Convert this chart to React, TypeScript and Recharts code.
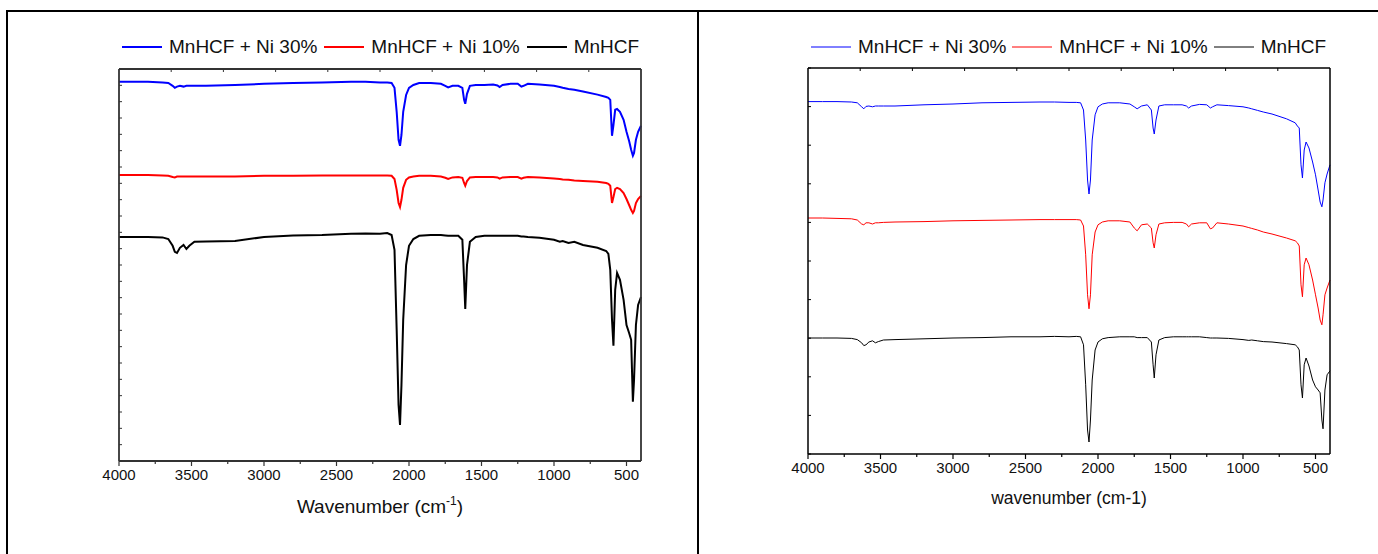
import React from 'react';
import { LineChart, Line, XAxis, YAxis, Legend } from 'recharts';

// FTIR spectra, transmittance in arbitrary units (stacked), two versions of the same figure

const WAVENUMBER = [
  4000, 3900, 3800, 3700, 3660, 3630, 3615, 3600, 3580, 3555,
  3535, 3515, 3480, 3400, 3200, 3000, 2800, 2600, 2400, 2300,
  2200, 2150, 2120, 2100, 2085, 2072, 2062, 2052, 2040, 2020,
  2000, 1970, 1930, 1850, 1780, 1750, 1730, 1700, 1660, 1632,
  1620, 1612, 1600, 1580, 1540, 1480, 1420, 1390, 1375, 1355,
  1300, 1250, 1225, 1210, 1180, 1100, 1000, 960, 940, 900,
  860, 800, 700, 640, 625, 612, 600, 590, 578, 565,
  545, 520, 500, 482, 468, 456, 448, 435, 420, 400,
];

// left figure
const LEFT_NI30 = [
  94.8, 94.8, 94.8, 94.6, 94.5, 93.8, 93.3, 93.6, 93.8, 93.6,
  93.8, 93.8, 93.8, 93.8, 94.0, 94.3, 94.5, 94.6, 94.8, 94.8,
  94.6, 94.6, 94.5, 93.3, 87.3, 80.3, 78.8, 81.5, 87.3, 91.5,
  93.3, 94.0, 94.5, 94.5, 94.3, 93.8, 93.4, 93.8, 93.8, 93.3,
  90.3, 89.3, 91.8, 93.8, 94.0, 94.0, 94.1, 93.9, 93.5, 94.0,
  94.3, 94.3, 93.6, 93.8, 94.3, 94.1, 93.8, 93.5, 93.3, 93.0,
  92.8, 92.4, 91.6, 91.0, 90.8, 90.3, 81.3, 84.0, 87.8, 88.0,
  87.3, 85.3, 82.3, 80.0, 77.8, 76.3, 77.0, 80.3, 82.3, 83.8,
];
const LEFT_NI10 = [
  71.5, 71.5, 71.5, 71.4, 71.3, 71.0, 70.9, 71.1, 71.1, 71.1,
  71.1, 71.1, 71.1, 71.1, 71.1, 71.3, 71.3, 71.4, 71.4, 71.4,
  71.4, 71.4, 71.3, 70.5, 67.8, 64.5, 63.5, 65.3, 68.3, 70.3,
  70.9, 71.1, 71.3, 71.3, 71.1, 70.8, 70.5, 70.9, 71.0, 70.8,
  69.5, 68.8, 70.0, 70.9, 71.0, 71.0, 71.0, 70.9, 70.6, 70.9,
  71.0, 71.0, 70.6, 70.8, 71.0, 70.9, 70.6, 70.5, 70.4, 70.3,
  70.1, 70.0, 69.8, 69.5, 69.3, 68.8, 64.5, 66.0, 68.0, 68.3,
  68.0, 67.0, 65.5, 64.0, 62.8, 62.0, 62.5, 64.5, 65.5, 66.3,
];
const LEFT_PURE = [
  56.0, 56.0, 56.0, 55.9, 55.5, 53.8, 52.3, 52.0, 53.3, 54.0,
  53.0, 53.8, 54.8, 54.9, 55.0, 56.0, 56.4, 56.5, 56.8, 56.9,
  56.8, 57.0, 56.5, 52.8, 32.8, 14.0, 9.0, 19.0, 35.3, 49.0,
  53.8, 55.5, 56.3, 56.5, 56.5, 56.4, 56.3, 56.3, 56.3, 55.3,
  45.3, 38.0, 49.0, 54.8, 56.0, 56.3, 56.3, 56.3, 56.3, 56.3,
  56.3, 56.3, 56.1, 56.1, 56.0, 55.8, 55.3, 54.8, 55.0, 54.5,
  54.8, 54.0, 53.3, 52.5, 51.8, 47.8, 35.3, 28.8, 42.8, 47.0,
  45.3, 40.3, 34.0, 32.0, 30.3, 14.8, 20.3, 34.0, 39.0, 41.0,
];

// right figure
const RIGHT_NI30 = [
  88.1, 88.1, 88.1, 88.0, 87.8, 86.8, 86.3, 86.9, 87.0, 86.8,
  87.0, 87.0, 87.0, 87.0, 87.3, 87.5, 87.8, 87.9, 88.0, 88.0,
  87.9, 87.9, 87.8, 86.0, 78.5, 68.5, 65.0, 68.5, 78.5, 84.8,
  86.8, 87.5, 87.8, 87.8, 87.5, 86.8, 86.3, 87.0, 87.3, 86.0,
  81.5, 80.0, 83.5, 87.0, 87.3, 87.3, 87.3, 87.0, 86.5, 87.0,
  87.4, 87.3, 86.5, 86.8, 87.3, 87.1, 86.8, 86.5, 86.3, 85.9,
  85.5, 85.0, 83.8, 82.8, 82.0, 81.5, 72.3, 69.0, 76.0, 78.0,
  76.5, 73.0, 69.8, 66.0, 63.0, 61.8, 63.5, 67.8, 70.0, 72.3,
];
const RIGHT_NI10 = [
  59.0, 59.0, 58.9, 58.8, 58.5, 57.5, 57.3, 57.8, 57.8, 57.5,
  57.8, 57.8, 57.9, 58.0, 58.1, 58.3, 58.4, 58.5, 58.6, 58.6,
  58.6, 58.6, 58.5, 57.0, 49.8, 39.8, 36.3, 39.8, 49.8, 55.5,
  57.3, 58.0, 58.3, 58.3, 58.0, 56.5, 55.8, 57.3, 57.5, 56.5,
  52.8, 51.5, 54.8, 57.5, 57.8, 57.9, 57.9, 57.5, 56.8, 57.5,
  57.8, 57.8, 56.3, 56.5, 57.8, 57.5, 57.0, 56.6, 56.4, 56.0,
  55.5, 55.0, 54.0, 53.3, 52.8, 52.0, 42.3, 39.3, 47.3, 49.0,
  47.3, 43.5, 39.8, 36.5, 33.5, 32.3, 34.8, 39.8, 41.5, 43.5,
];
const RIGHT_PURE = [
  29.0, 29.0, 29.0, 28.9, 28.6, 27.8, 27.1, 27.3, 28.0, 28.3,
  27.8, 28.1, 28.5, 28.6, 28.8, 29.0, 29.1, 29.3, 29.3, 29.4,
  29.3, 29.4, 29.3, 27.3, 17.3, 6.0, 3.0, 8.5, 18.5, 26.0,
  28.0, 28.8, 29.1, 29.3, 29.3, 29.3, 29.1, 29.1, 29.1, 28.0,
  22.3, 19.0, 24.8, 28.5, 29.1, 29.3, 29.3, 29.3, 29.3, 29.3,
  29.3, 29.1, 29.0, 29.0, 29.0, 28.9, 28.6, 28.4, 28.5, 28.3,
  28.1, 28.0, 27.6, 27.3, 26.8, 26.0, 17.3, 14.0, 22.3, 24.0,
  22.0, 18.5, 16.8, 16.0, 15.3, 8.5, 6.3, 16.0, 19.8, 20.8,
];

const SERIES_NAMES = ['MnHCF + Ni 30%', 'MnHCF + Ni 10%', 'MnHCF'];
const SERIES_COLORS = ['#0000ff', '#ff0000', '#000000'];

const X_LABELS = [4000, 3500, 3000, 2500, 2000, 1500, 1000, 500];
const X_TICKS = [4000, 3750, 3500, 3250, 3000, 2750, 2500, 2250, 2000, 1750, 1500, 1250, 1000, 750, 500];
const TOP_TICKS = [3640, 3280, 2920, 2560, 2200, 1840, 1480, 1120, 760];

const FONT = "'Liberation Sans', Arial, sans-serif";

const evenTicks = (max: number, n: number) => Array.from({ length: n + 1 }, (_, i) => (max * i) / n);

const toRows = (a: number[], b: number[], c: number[]) =>
  WAVENUMBER.map((wn, i) => ({ wn, s0: a[i], s1: b[i], s2: c[i] }));

function BottomTick({ x, y, payload, color }: any) {
  const major = X_LABELS.includes(payload.value);
  return (
    <g>
      <line x1={x} x2={x} y1={y} y2={y + (major ? 5 : 3)} stroke={color} strokeWidth={1.2} />
      {major && (
        <text x={x} y={y + 19} textAnchor="middle" fontSize={15} fontFamily={FONT} fill="#111">
          {payload.value}
        </text>
      )}
    </g>
  );
}

const TopTick = ({ x, y, color }: any) => <line x1={x} x2={x} y1={y} y2={y + 3} stroke={color} strokeWidth={1} />;
const LeftTick = ({ x, y, color }: any) => <line x1={x} x2={x + 3} y1={y} y2={y} stroke={color} strokeWidth={1} />;
const RightTick = ({ x, y, color }: any) => <line x1={x} x2={x + 3} y1={y} y2={y} stroke={color} strokeWidth={1} />;

function LegendRow({ lineWidth, gap }: { lineWidth: number; gap: number }) {
  return (
    <div style={{ display: 'flex', alignItems: 'center', whiteSpace: 'nowrap', fontFamily: FONT, fontSize: 19, lineHeight: '22px', color: '#111' }}>
      {SERIES_NAMES.map((name, i) => (
        <span key={name} style={{ display: 'flex', alignItems: 'center', marginRight: gap }}>
          <svg width={40} height={6} style={{ display: 'block', marginRight: 7 }}>
            <line x1={0} x2={40} y1={3} y2={3} stroke={SERIES_COLORS[i]} strokeWidth={lineWidth} />
          </svg>
          {name}
        </span>
      ))}
    </div>
  );
}

type PanelProps = {
  left: number;
  width: number;
  height: number;
  margin: { top: number; right: number; bottom: number; left: number };
  rows: any[];
  yMax: number;
  leftTicks: number[];
  rightTicks: number[];
  lineWidth: number;
  frame: string;
  frameWidth: number;
  legendLeft: number;
  legendGap: number;
  title: (cx: number, cy: number) => React.ReactNode;
  titleOffset: number;
};

function Panel(p: PanelProps) {
  const axisLine = { stroke: p.frame, strokeWidth: p.frameWidth };
  return (
    <div style={{ position: 'absolute', left: p.left, top: 0, width: p.width, height: p.height }}>
      <LineChart width={p.width} height={p.height} data={p.rows} margin={p.margin}>
        <XAxis
          xAxisId="b"
          dataKey="wn"
          type="number"
          domain={[400, 4000]}
          reversed
          ticks={X_TICKS}
          interval={0}
          tickSize={0}
          tickMargin={0}
          height={60}
          axisLine={axisLine}
          tickLine={false}
          tick={(t: any) => <BottomTick {...t} color={p.frame} />}
          label={(l: any) => {
            const vb = l.viewBox;
            return p.title(vb.x + vb.width / 2, vb.y + p.titleOffset);
          }}
        />
        <XAxis
          xAxisId="t"
          orientation="top"
          dataKey="wn"
          type="number"
          domain={[400, 4000]}
          reversed
          ticks={TOP_TICKS}
          interval={0}
          tickSize={0}
          tickMargin={0}
          height={1}
          axisLine={axisLine}
          tickLine={false}
          tick={(t: any) => <TopTick {...t} color={p.frame} />}
        />
        <YAxis
          yAxisId="l"
          type="number"
          domain={[0, p.yMax]}
          ticks={p.leftTicks}
          interval={0}
          width={1}
          tickSize={0}
          tickMargin={0}
          axisLine={axisLine}
          tickLine={false}
          tick={(t: any) => <LeftTick {...t} color={p.frame} />}
        />
        <YAxis
          yAxisId="r"
          orientation="right"
          type="number"
          domain={[0, p.yMax]}
          ticks={p.rightTicks}
          interval={0}
          width={1}
          tickSize={0}
          tickMargin={0}
          axisLine={axisLine}
          tickLine={false}
          tick={(t: any) => <RightTick {...t} color={p.frame} />}
        />
        {['s0', 's1', 's2'].map((key, i) => (
          <Line
            key={key}
            xAxisId="b"
            yAxisId="l"
            dataKey={key}
            name={SERIES_NAMES[i]}
            type="linear"
            stroke={SERIES_COLORS[i]}
            strokeWidth={p.lineWidth}
            dot={false}
            activeDot={false}
            isAnimationActive={false}
          />
        ))}
        <Legend
          layout="horizontal"
          verticalAlign="middle"
          align="center"
          content={() => <LegendRow lineWidth={p.lineWidth} gap={p.legendGap} />}
          wrapperStyle={{ top: 36, left: p.legendLeft, width: 'auto', height: 22 }}
        />
      </LineChart>
    </div>
  );
}

export default function App() {
  const leftRows = toRows(LEFT_NI30, LEFT_NI10, LEFT_PURE);
  const rightRows = toRows(RIGHT_NI30, RIGHT_NI10, RIGHT_PURE);

  return (
    <div style={{ position: 'absolute', left: 0, top: 0, width: 1378, height: 554, background: '#fff', overflow: 'hidden', fontFamily: FONT }}>
      <div style={{ position: 'absolute', left: 6, top: 10, width: 1372, height: 2, background: '#000' }} />
      <div style={{ position: 'absolute', left: 6, top: 10, width: 2, height: 544, background: '#000' }} />
      <div style={{ position: 'absolute', left: 697, top: 10, width: 2, height: 544, background: '#000' }} />

      <Panel
        left={0}
        width={697}
        height={554}
        margin={{ top: 68, right: 55, bottom: 33, left: 118 }}
        rows={leftRows}
        yMax={98}
        leftTicks={evenTicks(98, 24)}
        rightTicks={evenTicks(98, 10)}
        lineWidth={2}
        frame="#333"
        frameWidth={1.8}
        legendLeft={122}
        legendGap={7}
        titleOffset={52}
        title={(cx, cy) => (
          <text x={cx} y={cy} textAnchor="middle" fontSize={19} fontFamily={FONT} fill="#111">
            <tspan>Wavenumber (cm</tspan>
            <tspan dy={-8} fontSize={12}>-1</tspan>
            <tspan dy={8}>)</tspan>
          </text>
        )}
      />

      <Panel
        left={699}
        width={679}
        height={554}
        margin={{ top: 67, right: 47, bottom: 40, left: 108 }}
        rows={rightRows}
        yMax={96.5}
        leftTicks={evenTicks(96.5, 10)}
        rightTicks={evenTicks(96.5, 10)}
        lineWidth={1}
        frame="#000"
        frameWidth={1.5}
        legendLeft={112}
        legendGap={6}
        titleOffset={50}
        title={(cx, cy) => (
          <text x={cx} y={cy} textAnchor="middle" fontSize={17.5} fontFamily={FONT} fill="#111">
            wavenumber (cm-1)
          </text>
        )}
      />
    </div>
  );
}
